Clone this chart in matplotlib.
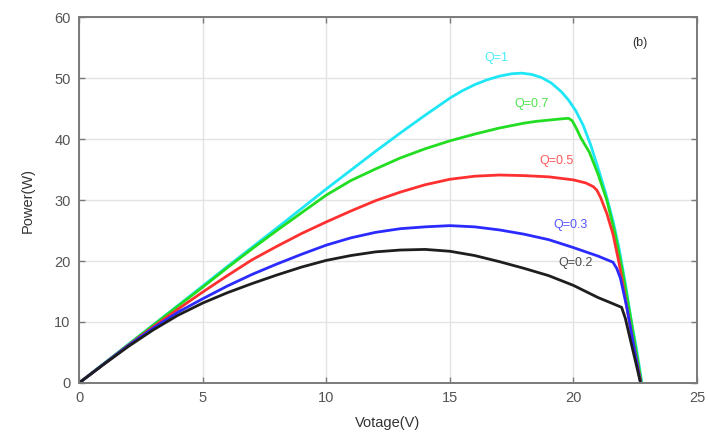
import matplotlib.pyplot as plt

# P-V curves for different Q values
v_q1 = [0, 2, 4, 6, 8, 10, 11, 12, 13, 14, 15, 15.5, 16, 16.5, 17, 17.5, 17.9, 18.3, 18.7, 19.1,
        19.5, 19.8, 20.1, 20.4, 20.7, 21.0, 21.3, 21.6, 21.85, 22.1, 22.35, 22.55, 22.76]
p_q1 = [0, 6.35, 12.7, 19.1, 25.4, 31.8, 34.9, 38.0, 41.0, 43.9, 46.7, 47.9, 48.9, 49.7, 50.3, 50.7, 50.8, 50.6, 50.1, 49.2,
        47.8, 46.4, 44.6, 42.2, 39.0, 35.2, 31.2, 26.6, 22.0, 16.3, 10.0, 5.6, 0.3]

v_q07 = [0, 1, 2, 3, 4, 5, 6, 7, 8, 9, 10, 11, 12, 13, 14, 15, 16, 17, 18, 18.5, 19, 19.5, 19.8,
         19.95, 20.1, 20.3, 20.65, 21.0, 21.35, 21.7, 22.0, 22.25, 22.5, 22.74]
p_q07 = [0, 3.15, 6.3, 9.45, 12.6, 15.7, 18.9, 22.0, 25.0, 27.9, 30.8, 33.2, 35.1, 36.9, 38.4, 39.7, 40.8, 41.8, 42.6, 42.9, 43.1, 43.3, 43.4,
         43.0, 41.9, 40.2, 37.8, 34.2, 30.0, 24.2, 18.0, 12.2, 6.2, 0.3]

v_q05 = [0, 1, 2, 3, 4, 5, 6, 7, 8, 9, 10, 11, 12, 13, 14, 15, 16, 17, 18, 19, 20, 20.5, 20.8,
         20.95, 21.1, 21.35, 21.6, 21.85, 22.1, 22.4, 22.72]
p_q05 = [0, 3.1, 6.2, 9.2, 12.1, 14.9, 17.6, 20.2, 22.4, 24.5, 26.4, 28.2, 29.9, 31.3, 32.5, 33.4, 33.9, 34.1, 34.0, 33.8, 33.3, 32.8, 32.2,
         31.6, 30.4, 27.8, 24.4, 19.6, 13.8, 7.0, 0.3]

v_q03 = [0, 1, 2, 3, 4, 5, 6, 7, 8, 9, 10, 11, 12, 13, 14, 15, 16, 17, 18, 19, 20, 21, 21.6,
         21.75, 21.9, 22.15, 22.4, 22.7]
p_q03 = [0, 3.1, 6.15, 9.0, 11.6, 13.8, 15.9, 17.8, 19.5, 21.1, 22.6, 23.8, 24.7, 25.3, 25.6, 25.8, 25.6, 25.1, 24.4, 23.5, 22.2, 20.8, 19.8,
         18.8, 17.2, 12.6, 7.0, 0.3]

v_q02 = [0, 1, 2, 3, 4, 5, 6, 7, 8, 9, 10, 11, 12, 13, 14, 15, 16, 17, 18, 19, 20, 21, 21.6, 21.95,
         22.1, 22.35, 22.7]
p_q02 = [0, 3.05, 6.0, 8.7, 11.1, 13.1, 14.8, 16.3, 17.7, 19.0, 20.1, 20.9, 21.5, 21.8, 21.9, 21.6, 20.9, 19.9, 18.8, 17.6, 16.0, 14.0, 13.0, 12.4,
         10.6, 6.3, 0.3]

series = [
    (v_q1, p_q1, '#1ee6f5', 'Q=1', (16.9, 53.3)),
    (v_q07, p_q07, '#22dd22', 'Q=0.7', (18.3, 45.7)),
    (v_q05, p_q05, '#ff3030', 'Q=0.5', (19.3, 36.4)),
    (v_q03, p_q03, '#2b2bff', 'Q=0.3', (19.9, 25.9)),
    (v_q02, p_q02, '#1e1e1e', 'Q=0.2', (20.1, 19.7)),
]

plt.rcParams['font.family'] = ['Liberation Sans', 'DejaVu Sans']

fig = plt.figure(figsize=(7.08, 4.37), dpi=100)
ax = fig.add_axes([0.1116, 0.1236, 0.8729, 0.8374])

for v, p, col, lab, pos in series:
    ax.plot(v, p, color=col, linewidth=2.0, solid_capstyle='round', solid_joinstyle='round')
    ax.text(pos[0], pos[1], lab, color=col, fontsize=9, ha='center', va='center', alpha=0.8)

ax.text(22.7, 55.7, '(b)', color='#333333', fontsize=9, ha='center', va='center')

ax.set_xlim(0, 25)
ax.set_ylim(0, 60)
ax.set_xticks([0, 5, 10, 15, 20, 25])
ax.set_yticks([0, 10, 20, 30, 40, 50, 60])
ax.grid(True, color='#e3e3e3', linewidth=1.0)
ax.set_axisbelow(True)

for s in ax.spines.values():
    s.set_color('#7a7a7a')
    s.set_linewidth(1.4)
ax.tick_params(direction='in', length=4, width=1, color='#7a7a7a',
               top=True, right=True, labelsize=10.5, labelcolor='#555555', pad=6)

ax.set_xlabel('Votage(V)', fontsize=10.5, color='#333333', labelpad=8)
ax.set_ylabel('Power(W)', fontsize=10.5, color='#333333', labelpad=14)

plt.savefig('out.png', dpi=100)
